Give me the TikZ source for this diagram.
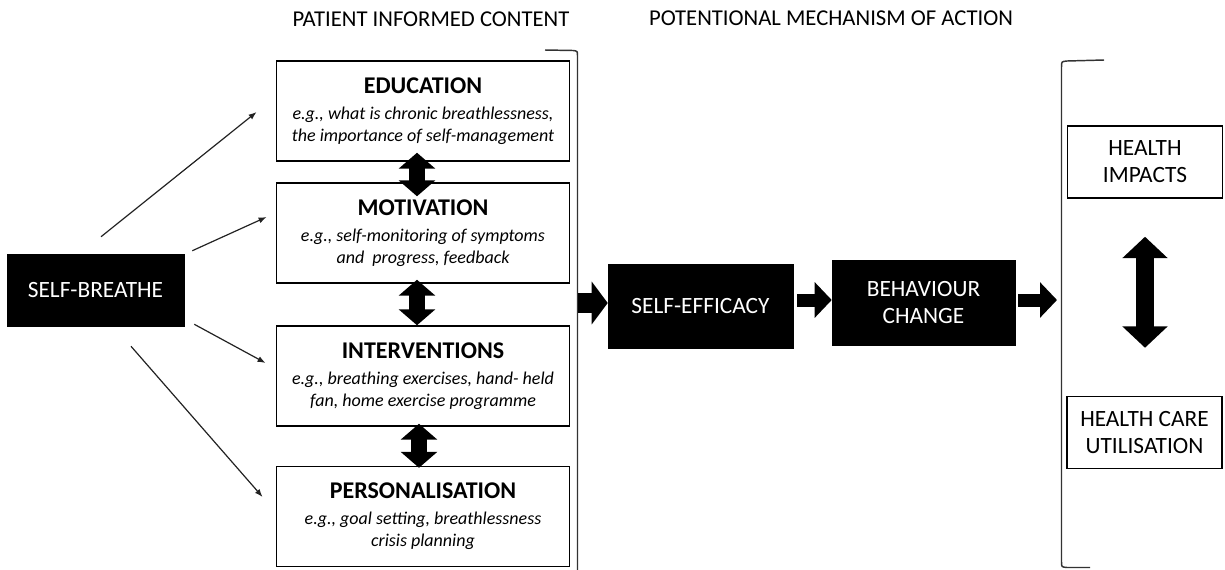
\documentclass[tikz,border=0pt]{standalone}
\usepackage{fontspec}
\setmainfont{Carlito}
\usetikzlibrary{arrows.meta,calc}
\definecolor{lineg}{HTML}{222222}
\newcommand{\boxhead}[1]{{\fontsize{18}{19}\selectfont\bfseries #1}}
\begin{document}
\begin{tikzpicture}[x=0.75pt,y=-0.75pt,
 content/.style={draw=black,line width=1.1pt,minimum width=220pt,minimum height=75pt,inner sep=0pt,align=center,font=\fontsize{13.5}{16.5}\selectfont},
 blackbox/.style={fill=black,draw=black,text=white,inner sep=0pt,align=center,font=\fontsize{17.5}{20.25}\selectfont},
 outbox/.style={draw=black,line width=1.1pt,inner sep=0pt,align=center,font=\fontsize{17.5}{20.25}\selectfont,minimum width=116.5pt,minimum height=54pt},
 titletext/.style={font=\fontsize{17}{20}\selectfont,inner sep=0pt},
 thinarrow/.style={draw=lineg,line width=0.9pt,-{Latex[length=6pt,width=4.5pt]}},
 bigarrow/.style={draw=black,line width=15pt,-{Triangle[length=12pt,width=31.5pt]}},
 midarrow/.style={draw=black,line width=9.75pt,-{Triangle[length=12.75pt,width=26pt]}},
 vdouble/.style={draw=black,line width=12pt,{Triangle[length=12pt,width=27pt]}-{Triangle[length=12pt,width=27pt]}},
 rdouble/.style={draw=black,line width=13.5pt,{Triangle[length=16pt,width=33pt]}-{Triangle[length=16pt,width=33pt]}},
 bracket/.style={draw=black!80,line width=1.1pt}
]
\useasboundingbox (0,0) rectangle (1225,569);

% titles
\node[titletext] (t1) at (431,19) {PATIENT INFORMED CONTENT};
\node[titletext] (t2) at (831,18) {POTENTIONAL MECHANISM OF ACTION};

% brackets
\draw[bracket] (545,50) -- (573,50.5) .. controls (577.5,51) .. (577.5,56) -- (577.5,572);
\draw[bracket] (1104,60) -- (1067,61) .. controls (1061.5,61.5) .. (1061.5,67) -- (1061.5,562) .. controls (1061.5,567) .. (1067,567.5) -- (1090,567.5);

% content boxes
\node[content] (edu) at (423,111) {\boxhead{EDUCATION}\\[3pt]
 \itshape e.g., what is chronic breathlessness,\\ \itshape the importance of self-management};
\node[content] (mot) at (423,233) {\boxhead{MOTIVATION}\\[3pt]
 \itshape e.g., self-monitoring of symptoms\\ \itshape and\ \ progress, feedback};
\node[content] (int) at (423,376) {\boxhead{INTERVENTIONS}\\[3pt]
 \itshape e.g., breathing exercises, hand- held\\ \itshape fan, home exercise programme};
\node[content] (pers) at (423,516.5) {\boxhead{PERSONALISATION}\\[3pt]
 \itshape e.g., goal setting, breathlessness\\ \itshape crisis planning};

% black boxes
\node[blackbox,minimum width=132.75pt,minimum height=54pt] (sb) at (95.5,290) {SELF-BREATHE};
\node[blackbox,minimum width=138.75pt,minimum height=63pt] (se) at (700.5,306) {SELF-EFFICACY};
\node[blackbox,minimum width=137.25pt,minimum height=63.75pt] (bc) at (923.5,302.5) {BEHAVIOUR\\CHANGE};

% outcome boxes
\node[outbox] (hi) at (1145,162) {HEALTH\\IMPACTS};
\node[outbox] (hcu) at (1144.5,432.5) {HEALTH CARE\\UTILISATION};

% thin arrows
\draw[thinarrow] ($(sb.north)+(5.5,-17)$) -- ($(edu.west)+(-19,1)$);
\draw[thinarrow] ($(sb.north east)+(8,-3)$) -- ($(mot.west)+(-9,-16)$);
\draw[thinarrow] ($(sb.south east)+(10,-2)$) -- ($(int.west)+(-10,-13)$);
\draw[thinarrow] ($(sb.south)+(35.5,20)$) -- ($(pers.west)+(-13,-19.5)$);

% vertical double arrows
\draw[vdouble] ($(edu.south)+(-6,-9)$) -- ($(mot.north)+(-6,14)$);
\draw[vdouble] ($(mot.south)+(-6,-4)$) -- ($(int.north)+(-6,0)$);
\draw[vdouble] ($(int.south)+(-4,-3)$) -- ($(pers.north)+(-4,2)$);

% block arrows along the chain
\coordinate (bl) at (577.5,303);
\draw[bigarrow] (bl) -- (bl -| se.west);
\draw[midarrow] ($(se.east)+(4,-6)$) -- ($(bc.west)+(0,-2.5)$);
\coordinate (br) at (1057,300);
\draw[midarrow] ($(bc.east)+(3,-2.5)$) -- (br);

% right double arrow
\draw[rdouble] ($(hi.south)+(0,38)$) -- ($(hcu.north)+(0.5,-48)$);
\end{tikzpicture}
\end{document}
